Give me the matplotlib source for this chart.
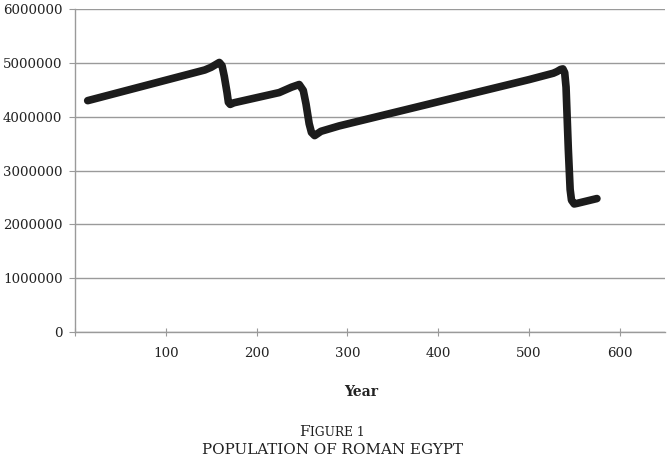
import numpy as np
import matplotlib.pyplot as plt

# --- Data (year AD, population) ---
years = [14, 143, 150, 155, 159, 162, 164.5, 167.5, 169, 171, 175,
         225, 238.5, 247, 251.5, 254.5, 258, 260.5, 264, 271, 291,
         500, 527, 531, 535, 537.5, 539.5, 541, 543.5, 545.5, 547, 550, 553, 575]
population = [4300000, 4870000, 4920000, 4970000, 5010000, 4950000, 4750000,
              4450000, 4270000, 4230000, 4260000,
              4450000, 4550000, 4600000, 4490000, 4240000, 3870000, 3710000,
              3650000, 3730000, 3830000,
              4690000, 4810000, 4840000, 4880000, 4890000, 4820000, 4550000,
              3400000, 2650000, 2450000, 2380000, 2390000, 2480000]

xticks = [0, 100, 200, 300, 400, 500, 600]
xticklabels = ["", "100", "200", "300", "400", "500", "600"]
yticks = [0, 1000000, 2000000, 3000000, 4000000, 5000000, 6000000]

plt.rcParams["font.family"] = "DejaVu Serif"

fig = plt.figure(figsize=(6.69, 4.59), dpi=100)
ax = fig.add_axes([0.1121, 0.2767, 0.8819, 0.7033])

grid_c = "#9a9a9a"
ax.plot(years, population, color="#1c1c1c", lw=5.5,
        solid_joinstyle="round", solid_capstyle="round", zorder=3)

ax.set_xlim(0, 650)
ax.set_ylim(0, 6000000)
ax.set_xticks(xticks)
ax.set_xticklabels(xticklabels)
ax.set_yticks(yticks)
ax.set_yticklabels([str(v) for v in yticks])

ax.yaxis.grid(True, color=grid_c, lw=1.0)
ax.set_axisbelow(True)
for s in ["top", "right"]:
    ax.spines[s].set_visible(False)
for s in ["left", "bottom"]:
    ax.spines[s].set_color(grid_c)
    ax.spines[s].set_linewidth(1.0)

ax.tick_params(axis="y", direction="out", length=4, color=grid_c, pad=5,
               labelsize=9.6, labelcolor="#222222")
ax.tick_params(axis="x", direction="inout", length=6, color=grid_c, pad=8,
               labelsize=9.6, labelcolor="#222222")

fig.text(361 / 669, 1 - 392 / 459, "Year", ha="center", va="center",
         fontsize=10, fontweight="bold", color="#222222")

# caption in small caps style
t1 = fig.text(299 / 669, 1 - 436 / 459, "F", ha="left", va="baseline",
              fontsize=10.9, color="#222222")
ax.annotate("IGURE 1", xy=(1, 0), xycoords=t1, ha="left", va="bottom",
            fontsize=8.8, color="#222222")
fig.text(332 / 669, 1 - 450 / 459, "POPULATION OF ROMAN EGYPT", ha="center",
         va="center", fontsize=10.9, color="#222222")

plt.savefig("out.png", dpi=100)
plt.close()
